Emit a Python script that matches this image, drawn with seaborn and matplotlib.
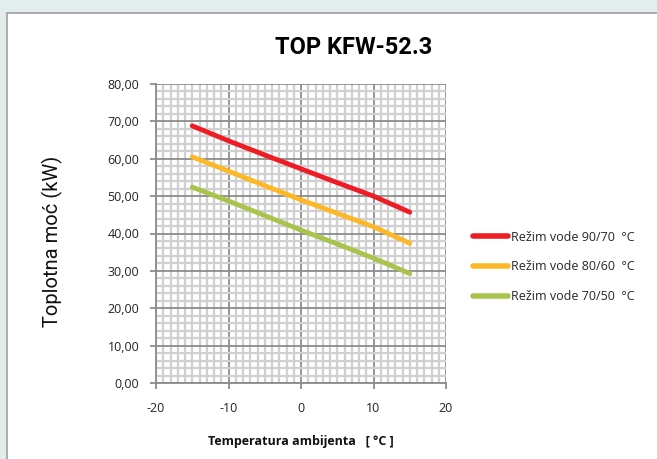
import numpy as np
import pandas as pd
import seaborn as sns
import matplotlib
matplotlib.use("Agg")
import matplotlib.pyplot as plt
from matplotlib.ticker import MultipleLocator, FuncFormatter
from matplotlib.patches import Rectangle

temps = [-15, -10, -5, 0, 5, 10, 15]
rezim_90_70 = [68.8, 64.8, 61.0, 57.3, 53.6, 50.0, 45.7]
rezim_80_60 = [60.5, 56.7, 52.8, 49.0, 45.4, 41.8, 37.4]
rezim_70_50 = [52.4, 48.7, 44.8, 40.9, 37.2, 33.4, 29.3]
series_names = ["Režim vode 90/70  °C", "Režim vode 80/60  °C", "Režim vode 70/50  °C"]
colors = ["#ee1c25", "#fdb827", "#a9c44c"]
title = "TOP KFW-52.3"
xlabel = "Temperatura ambijenta   [ °C ]"
ylabel = "Toplotna moć (kW)"

df = pd.DataFrame({
    "T": temps * 3,
    "P": rezim_90_70 + rezim_80_60 + rezim_70_50,
    "s": [series_names[0]] * 7 + [series_names[1]] * 7 + [series_names[2]] * 7,
})

sns.set_theme(style="white")
plt.rcParams['font.family'] = ['Open Sans', 'DejaVu Sans']
plt.rcParams['axes.unicode_minus'] = False

fig = plt.figure(figsize=(6.57, 4.59), dpi=100, facecolor="#e3eded")
# white chart panel (background axes)
bg = fig.add_axes([0, 0, 1, 1], zorder=-10)
bg.set_xlim(0, 657)
bg.set_ylim(459, 0)
bg.axis("off")
bg.add_patch(Rectangle((7, 13), 700, 500, facecolor="white", edgecolor="#a0a0a0", linewidth=1.2))

ax = fig.add_axes([156 / 657, 1 - 383 / 459, 290 / 657, 299 / 459], zorder=1)
ax.set_facecolor("white")
sns.lineplot(data=df, x="T", y="P", hue="s", palette=colors, linewidth=3.5, ax=ax, legend=True)

ax.set_xlim(-20, 20)
ax.set_ylim(0, 80)
ax.xaxis.set_major_locator(MultipleLocator(10))
ax.xaxis.set_minor_locator(MultipleLocator(1))
ax.yaxis.set_major_locator(MultipleLocator(10))
ax.yaxis.set_minor_locator(MultipleLocator(2))
ax.grid(which="minor", color="#d0d0d0", linewidth=1.6)
ax.grid(which="major", color="#8c8c8c", linewidth=1.3)
ax.set_axisbelow(True)
ax.yaxis.set_major_formatter(FuncFormatter(lambda v, p: f"{v:.2f}".replace(".", ",")))
for sp in ["top", "right"]:
    ax.spines[sp].set_visible(False)
for sp in ["left", "bottom"]:
    ax.spines[sp].set_color("#8c8c8c")
    ax.spines[sp].set_linewidth(1.3)
ax.tick_params(axis="both", which="major", labelsize=9, colors="#8c8c8c", labelcolor="#222222",
               length=4, width=1.3, direction="out", bottom=True, left=False, pad=10)
ax.tick_params(axis="y", which="major", left=True, length=4, pad=8)
ax.tick_params(which="minor", length=0)

ax.set_xlabel(xlabel, fontsize=9, fontweight="bold", labelpad=14, color="#111111")
ax.set_ylabel("")
fig.text(52 / 657, 1 - 241 / 459, ylabel, rotation=90, fontsize=14.5,
         family=["Roboto", "DejaVu Sans"], ha="center", va="center", color="#111111")
fig.text(354 / 657, 1 - 47 / 459, title, fontsize=17, fontweight="bold",
         family=["Roboto", "DejaVu Sans"], ha="center", va="center", color="#000000")

leg = ax.legend(loc="center left", bbox_to_anchor=(462 / 657, 1 - 267 / 459), bbox_transform=fig.transFigure,
                frameon=False, fontsize=9, handlelength=2.8, handletextpad=0.2, labelspacing=1.35)
for line in leg.get_lines():
    line.set_linewidth(4)

fig.savefig("out.png", dpi=100, facecolor=fig.get_facecolor())
